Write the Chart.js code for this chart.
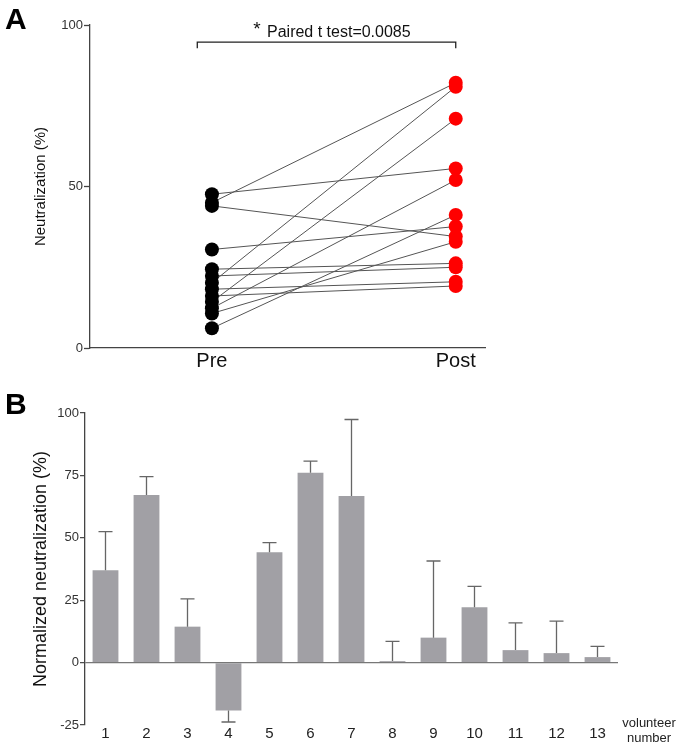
<!DOCTYPE html>
<html>
<head>
<meta charset="utf-8">
<script src="https://cdn.jsdelivr.net/npm/chart.js@4.4.0/dist/chart.umd.min.js"></script>
<style>
  body { margin: 0; background: #fff; font-family: "Liberation Sans", Arial, sans-serif; }
  #wrap { position: relative; width: 680px; height: 747px; }
  canvas { position: absolute; left: 0; }
  #chartA { top: 0; }
  #chartB { top: 375px; }
  .panel { position: absolute; left: 5px; font-weight: bold; font-size: 30px; color: #000; }
</style>
</head>
<body>
<div id="wrap">
  <canvas id="chartA" width="680" height="375"></canvas>
  <canvas id="chartB" width="680" height="372"></canvas>
  <div class="panel" style="top:2px">A</div>
  <div class="panel" style="top:387px">B</div>
</div>
<script>
// Panel A: paired neutralization values, one per volunteer
const preValues  = [47.6, 45.0, 44.0, 30.5, 24.4, 22.3, 20.2, 18.2, 16.1, 14.3, 12.3, 10.7, 6.1];
const postValues = [55.6, 82.1, 34.5, 37.6, 26.2, 25.0, 80.9, 20.5, 19.2, 71.0, 52.0, 32.9, 41.2];
const groupLabels = ["Pre", "Post"];
const statText = "Paired t test=0.0085";

// Panel B: normalized neutralization per volunteer
const volunteers = ["1","2","3","4","5","6","7","8","9","10","11","12","13"];
const normMeans  = [37.0, 67.1, 14.4, -19.2, 44.2, 76.1, 66.7, 0.6, 10.0, 22.2, 5.0, 3.8, 2.2];
const normErrors = [15.5, 7.4, 11.1, 4.6, 3.9, 4.6, 30.7, 7.9, 30.7, 8.3, 10.9, 12.8, 4.3];

const FONT = "'Liberation Sans', Arial, sans-serif";
const AXIS = "#444";

// bracket + p-value text above panel A
const bracketPlugin = {
  id: "bracket",
  afterDraw(chart) {
    const { ctx, scales: { x, y } } = chart;
    const x0 = x.getPixelForValue(-0.06);
    const x2 = x.getPixelForValue(1);
    const yl = y.getPixelForValue(94.7), yt = y.getPixelForValue(92.8);
    ctx.save();
    ctx.strokeStyle = "#222";
    ctx.lineWidth = 1.3;
    ctx.beginPath();
    ctx.moveTo(x0, yt); ctx.lineTo(x0, yl); ctx.lineTo(x2, yl); ctx.lineTo(x2, yt);
    ctx.stroke();
    ctx.fillStyle = "#111";
    ctx.textBaseline = "middle";
    ctx.font = "19px " + FONT;
    ctx.textAlign = "center";
    ctx.fillText("*", 257, 30);
    ctx.font = "16px " + FONT;
    ctx.textAlign = "left";
    ctx.fillText(statText, 267, 33);
    ctx.restore();
  }
};

const pairLines = preValues.map((v, i) => ({
  type: "line",
  data: [{ x: 0, y: v }, { x: 1, y: postValues[i] }],
  borderColor: "#555",
  borderWidth: 1,
  pointRadius: 0,
  order: 2
}));

new Chart(document.getElementById("chartA"), {
  type: "scatter",
  data: {
    datasets: [
      { data: preValues.map(v => ({ x: 0, y: v })), backgroundColor: "#000", borderWidth: 0, pointRadius: 7, order: 1 },
      { data: postValues.map(v => ({ x: 1, y: v })), backgroundColor: "#ff0000", borderWidth: 0, pointRadius: 7, order: 1 },
      ...pairLines
    ]
  },
  options: {
    responsive: false,
    animation: false,
    layout: { padding: { top: 25, right: 195, left: 0, bottom: 0 } },
    plugins: { legend: { display: false }, tooltip: { enabled: false } },
    scales: {
      x: {
        type: "linear", min: -0.5, max: 1.12,
        afterBuildTicks: s => { s.ticks = [{ value: 0 }, { value: 1 }]; },
        afterFit: s => { s.height = 27; },
        ticks: { callback: v => groupLabels[v], font: { size: 20, family: FONT }, color: "#111", padding: 1, maxRotation: 0 },
        grid: { drawOnChartArea: false, drawTicks: false },
        border: { color: AXIS, width: 1.3 }
      },
      y: {
        min: 0, max: 100,
        afterFit: s => { s.width = 90; },
        ticks: { stepSize: 50, font: { size: 13, family: FONT }, color: "#333", padding: 1 },
        grid: { drawOnChartArea: false, tickLength: 6, tickColor: AXIS, tickWidth: 1.3 },
        border: { color: AXIS, width: 1.3 },
        title: { display: true, text: "Neutralization (%)", font: { size: 15, family: FONT }, color: "#111", padding: { top: 32 } }
      }
    }
  },
  plugins: [bracketPlugin]
});

// one-sided error bars + axis note for panel B
const errorBarPlugin = {
  id: "errorBars",
  afterDatasetsDraw(chart) {
    const { ctx, scales: { y } } = chart;
    const meta = chart.getDatasetMeta(0);
    ctx.save();
    ctx.strokeStyle = "#666";
    ctx.lineWidth = 1.3;
    meta.data.forEach((bar, i) => {
      const m = normMeans[i];
      const end = m >= 0 ? m + normErrors[i] : m - normErrors[i];
      const yb = y.getPixelForValue(m), ye = y.getPixelForValue(end);
      ctx.beginPath();
      ctx.moveTo(bar.x, yb); ctx.lineTo(bar.x, ye);
      ctx.moveTo(bar.x - 7, ye); ctx.lineTo(bar.x + 7, ye);
      ctx.stroke();
    });
    ctx.restore();
  },
  afterDraw(chart) {
    const { ctx, chartArea } = chart;
    ctx.save();
    ctx.fillStyle = "#222";
    ctx.font = "13px " + FONT;
    ctx.textAlign = "center";
    ctx.textBaseline = "middle";
    const cx = chartArea.right + 31;
    ctx.fillText("volunteer", cx, 348);
    ctx.fillText("number", cx, 363);
    ctx.restore();
  }
};

new Chart(document.getElementById("chartB"), {
  type: "bar",
  data: {
    labels: volunteers,
    datasets: [{ data: normMeans, backgroundColor: "#a1a0a5", borderWidth: 0, categoryPercentage: 1, barPercentage: 0.63 }]
  },
  options: {
    responsive: false,
    animation: false,
    layout: { padding: { top: 38, right: 62, left: 0, bottom: 0 } },
    plugins: { legend: { display: false }, tooltip: { enabled: false } },
    scales: {
      x: {
        afterFit: s => { s.height = 22; },
        ticks: { font: { size: 15, family: FONT }, color: "#222", padding: 0, maxRotation: 0 },
        grid: { display: false, drawTicks: false },
        border: { display: false }
      },
      y: {
        min: -25, max: 100,
        afterFit: s => { s.width = 85; },
        ticks: { stepSize: 25, font: { size: 13, family: FONT }, color: "#333", padding: 1 },
        grid: {
          color: c => (c.tick && c.tick.value === 0 ? "#777" : "rgba(0,0,0,0)"),
          lineWidth: 1.3,
          tickLength: 5, tickColor: AXIS, tickWidth: 1.2
        },
        border: { color: AXIS, width: 1.3 },
        title: { display: true, text: "Normalized neutralization (%)", font: { size: 18, family: FONT }, color: "#111", padding: { top: 30 } }
      }
    }
  },
  plugins: [errorBarPlugin]
});
</script>
</body>
</html>
